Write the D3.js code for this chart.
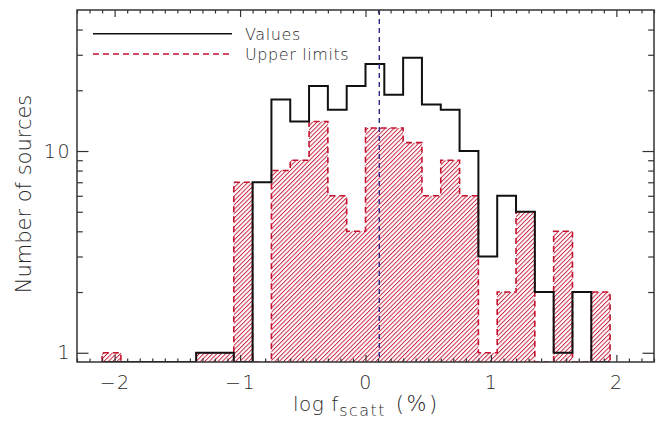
<!DOCTYPE html>
<html>
<head>
<meta charset="utf-8">
<script src="https://cdn.jsdelivr.net/npm/d3@7"></script>
<style>
  html, body { margin: 0; padding: 0; background: #fff; }
  svg text { font-family: "DejaVu Sans", sans-serif; font-weight: 200; fill: #2a2a2a; }
</style>
</head>
<body>
<svg id="chart" width="665" height="422"></svg>
<script>
// Histogram bin edges: 0.15 wide, starting at log f = -2.1
const binStart = -2.1;
const binWidth = 0.15;
// Counts per bin for detected values
const valueCounts = [0, 0, 0, 0, 0, 1, 1, 0, 7, 18, 14, 21, 16, 21, 27, 19, 29, 17, 16, 10, 3, 6, 5, 2, 1, 2, 0];
// Counts per bin for upper limits
const upperCounts = [1, 0, 0, 0, 0, 1, 1, 7, 0, 8, 9, 14, 6, 4, 13, 13, 11, 6, 9, 6, 1, 2, 5, 0, 4, 0, 2];
// Reference position marked by the vertical dashed line
const markerX = 0.11;
// Axis ticks
const xMajorTicks = [-2, -1, 0, 1, 2];
const yMajorTicks = [1, 10];
const yMinorTicks = [2, 3, 4, 5, 6, 7, 8, 9, 20, 30, 40];
const legendLabels = ["Values", "Upper limits"];

const svg = d3.select("#chart");
const pLeft = 77, pRight = 654, pTop = 10, pBottom = 362;

const x = d3.scaleLinear().domain([-2.3, 2.3]).range([pLeft, pRight]);
const y = d3.scaleLog().domain([0.9, 50]).range([pBottom, pTop]);

const axisColor = "#333";
const red = "#c4122f";

// hatch pattern for the upper-limit histogram
const defs = svg.append("defs");
defs.append("pattern")
  .attr("id", "hatch")
  .attr("patternUnits", "userSpaceOnUse")
  .attr("width", 3.1).attr("height", 10)
  .attr("patternTransform", "rotate(45)")
  .append("line")
  .attr("x1", 0.5).attr("y1", 0).attr("x2", 0.5).attr("y2", 10)
  .attr("stroke", red).attr("stroke-width", 0.9);

defs.append("clipPath").attr("id", "plotclip")
  .append("rect").attr("x", pLeft).attr("y", pTop)
  .attr("width", pRight - pLeft).attr("height", pBottom - pTop);

// step outline of a histogram, closed along the baseline
function stepPath(counts) {
  const yv = v => v > 0 ? y(v) : pBottom;
  let d = `M${x(binStart)},${pBottom}`;
  counts.forEach((c, i) => {
    const x0 = x(binStart + i * binWidth), x1 = x(binStart + (i + 1) * binWidth);
    d += `L${x0},${yv(c)}L${x1},${yv(c)}`;
  });
  d += `L${x(binStart + counts.length * binWidth)},${pBottom}`;
  return d;
}

const plot = svg.append("g").attr("clip-path", "url(#plotclip)");

// upper limits: hatched fill with dashed outline
plot.append("path")
  .attr("d", stepPath(upperCounts) + "Z")
  .attr("fill", "url(#hatch)")
  .attr("stroke", "none");
plot.append("path")
  .attr("d", stepPath(upperCounts))
  .attr("fill", "none")
  .attr("stroke", red)
  .attr("stroke-width", 1.6)
  .attr("stroke-dasharray", "6,4");

// detected values: solid step line
plot.append("path")
  .attr("d", stepPath(valueCounts))
  .attr("fill", "none")
  .attr("stroke", "#111")
  .attr("stroke-width", 2);

// vertical marker
plot.append("line")
  .attr("x1", x(markerX)).attr("x2", x(markerX))
  .attr("y1", pTop).attr("y2", pBottom)
  .attr("stroke", "#2b2b8c")
  .attr("stroke-width", 1.4)
  .attr("stroke-dasharray", "5,4");

// axes: ticks point inward on all four sides
const xMinor = d3.range(-23, 24).map(i => i / 10).filter(v => Math.abs(v - Math.round(v)) > 1e-6);
const xMajLen = 7, xMinLen = 3.5, yMajLen = 11.5, yMinLen = 5.8;

const bottomAxis = svg.append("g").attr("transform", `translate(0,${pBottom})`)
  .call(d3.axisBottom(x).tickValues(xMajorTicks).tickSize(-xMajLen).tickPadding(14)
    .tickFormat(d => d3.format("d")(d).replace("-", "\u2212")));
bottomAxis.append("g").call(d3.axisBottom(x).tickValues(xMinor).tickSize(-xMinLen).tickFormat(""));

const topAxis = svg.append("g").attr("transform", `translate(0,${pTop})`)
  .call(d3.axisTop(x).tickValues(xMajorTicks).tickSize(-xMajLen).tickFormat(""));
topAxis.append("g").call(d3.axisTop(x).tickValues(xMinor).tickSize(-xMinLen).tickFormat(""));

const leftAxis = svg.append("g").attr("transform", `translate(${pLeft},0)`)
  .call(d3.axisLeft(y).tickValues(yMajorTicks).tickSize(-yMajLen).tickPadding(6)
    .tickFormat(d3.format("d")));
leftAxis.append("g").call(d3.axisLeft(y).tickValues(yMinorTicks).tickSize(-yMinLen).tickFormat(""));

const rightAxis = svg.append("g").attr("transform", `translate(${pRight},0)`)
  .call(d3.axisRight(y).tickValues(yMajorTicks).tickSize(-yMajLen).tickFormat(""));
rightAxis.append("g").call(d3.axisRight(y).tickValues(yMinorTicks).tickSize(-yMinLen).tickFormat(""));

svg.selectAll(".domain").attr("stroke", "none");
svg.selectAll(".tick line").attr("stroke", axisColor).attr("stroke-width", 1.2);
svg.selectAll(".tick text").attr("font-size", 19).attr("font-family", null)
  .attr("fill", "#2a2a2a").attr("letter-spacing", 1.5);

// frame
svg.append("rect")
  .attr("x", pLeft).attr("y", pTop)
  .attr("width", pRight - pLeft).attr("height", pBottom - pTop)
  .attr("fill", "none").attr("stroke", axisColor).attr("stroke-width", 1.5);

// axis titles
const xt = svg.append("text")
  .attr("x", 293).attr("y", 411)
  .attr("font-size", 20);
xt.append("tspan").attr("letter-spacing", 0.5).text("log");
xt.append("tspan").attr("dx", 7).text("f");
xt.append("tspan").attr("font-size", 16).attr("dy", 5).attr("dx", 1).attr("letter-spacing", 1.4).text("scatt");
xt.append("tspan").attr("dy", -5).attr("dx", 10).attr("font-size", 21).attr("letter-spacing", 2.5).text("(%)");

svg.append("text")
  .attr("transform", `translate(31,194) rotate(-90)`)
  .attr("text-anchor", "middle")
  .attr("font-size", 21)
  .text("Number of sources");

// legend
const legY = [33.7, 54];
svg.append("line").attr("x1", 93).attr("x2", 232).attr("y1", legY[0]).attr("y2", legY[0])
  .attr("stroke", "#111").attr("stroke-width", 1.5);
svg.append("line").attr("x1", 93).attr("x2", 232).attr("y1", legY[1]).attr("y2", legY[1])
  .attr("stroke", red).attr("stroke-width", 1.5).attr("stroke-dasharray", "6,4");
legendLabels.forEach((t, i) => {
  svg.append("text").attr("x", 245).attr("y", legY[i] + 6)
    .attr("font-size", 16).attr("letter-spacing", 0.6).text(t);
});
</script>
</body>
</html>
